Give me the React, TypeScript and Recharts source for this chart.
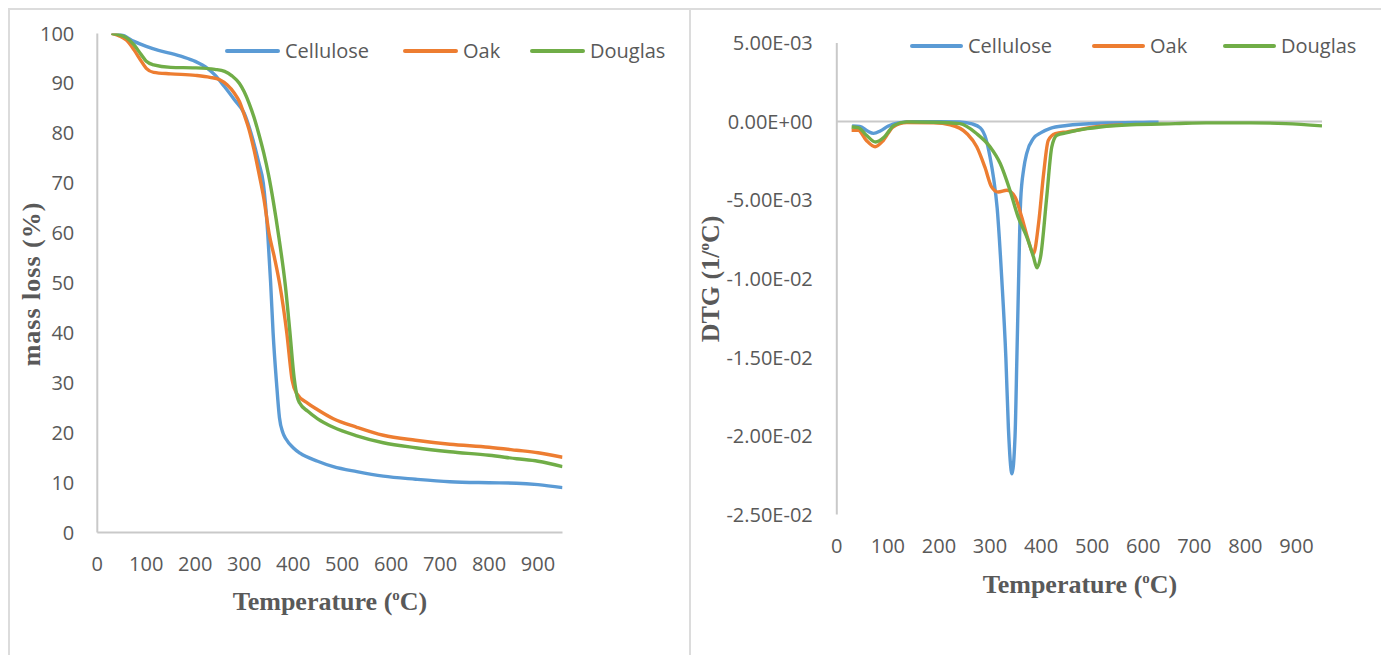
import React from 'react';
import { LineChart, Line, XAxis, YAxis, ReferenceLine, Legend, Label } from 'recharts';

const seriesNames = ['Cellulose', 'Oak', 'Douglas'];
const seriesColors = ['#5B9BD5', '#ED7D31', '#70AD47'];

// ---- TGA (mass loss %) ----
const tgaCelluloseT = [29, 50, 75, 100, 125, 150, 175, 200, 225, 240, 260, 280, 300, 314, 330, 339, 348, 354, 359, 366, 372, 379, 385, 400, 414, 450, 482, 530, 584, 650, 720, 800, 856, 900, 950];
const tgaCelluloseM = [100, 99.7, 98.4, 97.4, 96.6, 96, 95.3, 94.4, 93.0, 91.7, 89.3, 86.7, 84, 80, 74, 70, 60, 50, 40, 30, 23, 20, 18.8, 17, 15.9, 14.3, 13.2, 12.2, 11.3, 10.7, 10.2, 10.0, 9.9, 9.6, 9.0];

const tgaOakT = [29, 45, 60, 75, 90, 100, 115, 150, 200, 230, 250, 265, 280, 290, 300, 310, 320, 330, 340, 351, 362, 373, 387, 398, 407, 430, 450, 482, 530, 584, 650, 720, 800, 856, 900, 950];
const tgaOakM = [100, 99.5, 98.6, 96.7, 94.4, 93, 92.2, 91.9, 91.6, 91.2, 90.7, 89.7, 88, 86.4, 83.7, 80.7, 76.7, 72, 67, 59.8, 55, 49.5, 40, 30.5, 27.9, 25.9, 24.6, 22.8, 21.1, 19.5, 18.5, 17.7, 17.1, 16.5, 16.0, 15.1];

const tgaDouglasT = [29, 45, 60, 75, 90, 100, 115, 150, 200, 240, 260, 275, 290, 300, 310, 320, 330, 340, 350, 360, 371, 384, 393, 402, 408, 413, 430, 450, 482, 530, 584, 650, 720, 800, 856, 900, 950];
const tgaDouglasM = [100, 99.7, 99.1, 97.7, 95.7, 94.4, 93.7, 93.2, 93.1, 92.8, 92.4, 91.5, 90, 88.3, 86, 83.2, 79.8, 76, 71.5, 66, 59, 49.5, 40.5, 31, 27.3, 26, 24.3, 22.8, 21.1, 19.4, 18.0, 17.0, 16.2, 15.5, 14.8, 14.3, 13.2];

const tgaTicksX = [0, 100, 200, 300, 400, 500, 600, 700, 800, 900];
const tgaTicksY = [0, 10, 20, 30, 40, 50, 60, 70, 80, 90, 100];

// ---- DTG (1/oC) ----
const dtgCelluloseT = [30, 45, 60, 72, 85, 100, 120, 150, 200, 240, 265, 281, 292, 300, 307, 314, 323, 331, 336, 343, 349, 352.6, 356, 360, 366, 372, 385, 400, 418, 450, 516, 600, 630];
const dtgCelluloseV = [-0.27e-3, -0.3e-3, -0.6e-3, -0.75e-3, -0.6e-3, -0.3e-3, -0.08e-3, 0, 0, -0.03e-3, -0.15e-3, -0.4e-3, -1.1e-3, -2.25e-3, -3.6e-3, -5.5e-3, -10e-3, -15e-3, -19.5e-3, -22.4e-3, -20e-3, -15e-3, -10e-3, -5e-3, -3e-3, -2.0e-3, -1.07e-3, -0.7e-3, -0.43e-3, -0.25e-3, -0.1e-3, -0.05e-3, -0.04e-3];

const dtgOakT = [29, 42, 58, 75, 91, 110, 137, 190, 222, 255, 274, 290, 303, 316, 333, 349, 362, 375, 385, 395, 405, 414, 428, 451, 516, 560];
const dtgOakV = [-0.55e-3, -0.55e-3, -1.2e-3, -1.6e-3, -1.2e-3, -0.34e-3, -0.06e-3, -0.08e-3, -0.2e-3, -0.77e-3, -1.6e-3, -2.9e-3, -4.15e-3, -4.48e-3, -4.37e-3, -4.8e-3, -6.07e-3, -7.55e-3, -8.4e-3, -6.5e-3, -3.3e-3, -1.2e-3, -0.77e-3, -0.65e-3, -0.3e-3, -0.22e-3];

const dtgDouglasT = [29, 42, 58, 76, 93, 112, 137, 189, 241, 274, 300, 320, 339, 355, 372, 385, 392, 399, 411, 421, 431, 451, 490, 516, 576, 663, 723, 810, 879, 950];
const dtgDouglasV = [-0.34e-3, -0.38e-3, -0.87e-3, -1.3e-3, -0.98e-3, -0.24e-3, -0.02e-3, -0.04e-3, -0.13e-3, -0.77e-3, -1.6e-3, -2.67e-3, -4.37e-3, -6.07e-3, -7.34e-3, -8.6e-3, -9.3e-3, -8.6e-3, -4.8e-3, -1.6e-3, -0.87e-3, -0.7e-3, -0.45e-3, -0.34e-3, -0.2e-3, -0.13e-3, -0.08e-3, -0.08e-3, -0.13e-3, -0.27e-3];

const dtgTicksX = [0, 100, 200, 300, 400, 500, 600, 700, 800, 900];
const dtgTicksY = [-0.025, -0.02, -0.015, -0.01, -0.005, 0, 0.005];

const zip = (ts: number[], vs: number[]) => ts.map((t, i) => ({ t, v: vs[i] }));

const tgaSeries = [zip(tgaCelluloseT, tgaCelluloseM), zip(tgaOakT, tgaOakM), zip(tgaDouglasT, tgaDouglasM)];
const dtgSeries = [zip(dtgCelluloseT, dtgCelluloseV), zip(dtgOakT, dtgOakV), zip(dtgDouglasT, dtgDouglasV)];

const fmtE = (v: number) => {
  if (Math.abs(v) < 1e-12) return '0.00E+00';
  const [m, e] = v.toExponential(2).split('e');
  const n = parseInt(e, 10);
  return `${m}E${n < 0 ? '-' : '+'}${String(Math.abs(n)).padStart(2, '0')}`;
};

const GRID = '#c9c9c9';
const TEXT = '#595959';
const tickStyle = { fill: TEXT, fontSize: 20, fontFamily: '"Open Sans", sans-serif' };
const titleFont = '"Liberation Serif", "Times New Roman", serif';

const makeLegend = (offsets: number[], lineW: number, textX: number) => () => (
  <div style={{ position: 'relative', width: 480, height: 30 }}>
    {seriesNames.map((n, i) => (
      <div key={n} style={{ position: 'absolute', left: offsets[i], top: 0, height: 30, display: 'flex', alignItems: 'center' }}>
        <div style={{ width: lineW, height: 3.5, background: seriesColors[i], borderRadius: 2 }} />
        <span style={{ marginLeft: textX - lineW, fontFamily: '"Open Sans", sans-serif', fontSize: 20, lineHeight: '30px', color: TEXT, whiteSpace: 'nowrap' }}>{n}</span>
      </div>
    ))}
  </div>
);

const XTitle = (x: number, y: number) => () => (
  <text x={x} y={y} textAnchor="middle" fontFamily={titleFont} fontWeight="bold" fontSize={26} fill={TEXT}>
    Temperature (<tspan fontSize={15} dy={-10}>o</tspan><tspan dy={10}>C)</tspan>
  </text>
);

const YTitleMass = (x: number, y: number) => () => (
  <text x={x} y={y} transform={`rotate(-90 ${x} ${y})`} textAnchor="middle" fontFamily={titleFont} fontWeight="bold" fontSize={26} letterSpacing={1} fill={TEXT}>
    mass loss (%)
  </text>
);

const YTitleDTG = (x: number, y: number) => () => (
  <text x={x} y={y} transform={`rotate(-90 ${x} ${y})`} textAnchor="middle" fontFamily={titleFont} fontWeight="bold" fontSize={26} fill={TEXT}>
    DTG (1/<tspan fontSize={15} dy={-10}>o</tspan><tspan dy={10}>C)</tspan>
  </text>
);

export default function App() {
  return (
    <div style={{ position: 'absolute', left: 0, top: 0, width: 1381, height: 655, background: '#fff', overflow: 'hidden' }}>
      <div style={{ position: 'absolute', left: 8, top: 8, width: 1400, height: 700, borderLeft: '2px solid #dcdcdc', borderTop: '2px solid #dcdcdc' }} />
      <div style={{ position: 'absolute', left: 689, top: 8, width: 2, height: 700, background: '#dcdcdc' }} />

      <div style={{ position: 'absolute', left: 0, top: 0 }}>
        <LineChart width={690} height={655} margin={{ top: 33.4, right: 127.5, bottom: 62.4, left: 37.3 }}>
          <XAxis type="number" dataKey="t" domain={[0, 950]} ticks={tgaTicksX} interval={0} allowDataOverflow
            axisLine={{ stroke: GRID, strokeWidth: 2 }} tickLine={false} tickSize={0} tickMargin={24.5} height={60} tick={tickStyle}>
            <Label content={XTitle(330, 610)} />
          </XAxis>
          <YAxis type="number" domain={[0, 100]} ticks={tgaTicksY} interval={0} allowDataOverflow
            axisLine={{ stroke: GRID, strokeWidth: 2 }} tickLine={false} tickSize={0} tickMargin={23} width={60} tick={tickStyle}>
            <Label content={YTitleMass(40, 284)} />
          </YAxis>
          {tgaSeries.map((d, i) => (
            <Line key={seriesNames[i]} data={d} dataKey="v" name={seriesNames[i]} type="monotone" stroke={seriesColors[i]}
              strokeWidth={3.4} dot={false} activeDot={false} isAnimationActive={false} />
          ))}
          <Legend layout="vertical" verticalAlign="middle" align="center" content={makeLegend([0, 178, 305], 55, 60)}
            wrapperStyle={{ position: 'absolute', left: 225, top: 36, width: 480, height: 30 }} />
        </LineChart>
      </div>

      <div style={{ position: 'absolute', left: 690, top: 0 }}>
        <LineChart width={691} height={655} margin={{ top: 43, right: 59, bottom: 80.4, left: 46.8 }}>
          <XAxis type="number" dataKey="t" domain={[0, 950]} ticks={dtgTicksX} interval={0} allowDataOverflow
            axisLine={false} tickLine={false} tickSize={0} tickMargin={24.5} height={60} tick={tickStyle}>
            <Label content={XTitle(390, 593)} />
          </XAxis>
          <YAxis type="number" domain={[-0.025, 0.005]} ticks={dtgTicksY} interval={0} allowDataOverflow tickFormatter={fmtE}
            axisLine={{ stroke: GRID, strokeWidth: 2 }} tickLine={false} tickSize={0} tickMargin={24} width={100} tick={tickStyle}>
            <Label content={YTitleDTG(29, 279)} />
          </YAxis>
          <ReferenceLine y={0} stroke={GRID} strokeWidth={2} />
          {dtgSeries.map((d, i) => (
            <Line key={seriesNames[i]} data={d} dataKey="v" name={seriesNames[i]} type="monotone" stroke={seriesColors[i]}
              strokeWidth={3.4} dot={false} activeDot={false} isAnimationActive={false} />
          ))}
          <Legend layout="vertical" verticalAlign="middle" align="center" content={makeLegend([0, 182, 313], 53, 58)}
            wrapperStyle={{ position: 'absolute', left: 220, top: 31, width: 480, height: 30 }} />
        </LineChart>
      </div>
    </div>
  );
}
